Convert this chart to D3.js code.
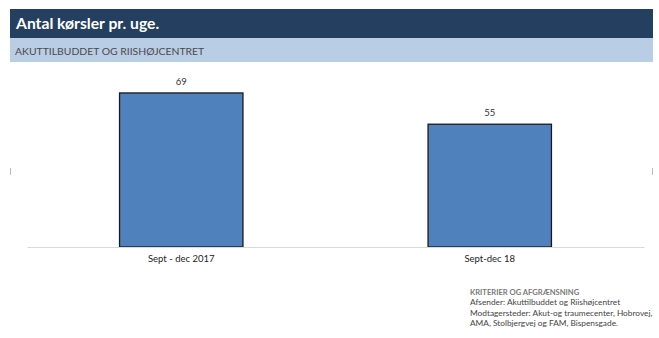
<!DOCTYPE html>
<html><head><meta charset="utf-8">
<script src="https://cdn.jsdelivr.net/npm/d3@7"></script>
<style>body{margin:0;background:#fff}svg{display:block}</style>
</head><body>
<script>
const categories = ["Sept - dec 2017", "Sept-dec 18"];
const values = [69, 55];
const title = "Antal kørsler pr. uge.";
const subtitle = "AKUTTILBUDDET OG RIISHØJCENTRET";
const notes = ["KRITERIER OG AFGRÆNSNING",
  "Afsender:  Akuttilbuddet og Riishøjcentret",
  "Modtagersteder: Akut-og traumecenter, Hobrovej,",
  "AMA, Stolbjergvej og FAM, Bispensgade."];

const W = 659, H = 338;
const svg = d3.select("body").append("svg").attr("width", W).attr("height", H);
const font = "Lato, 'Open Sans', sans-serif";

svg.append("rect").attr("x",10).attr("y",9).attr("width",643).attr("height",29).attr("fill","#243f60");
svg.append("rect").attr("x",10).attr("y",38).attr("width",643).attr("height",24).attr("fill","#b9cde5");
svg.append("text").attr("x",16).attr("y",29).attr("fill","#fff").attr("font-family",font)
  .attr("font-weight","bold").attr("font-size",15.7).text(title);
svg.append("text").attr("x",15).attr("y",54.5).attr("fill","#4a4a4a").attr("font-family",font)
  .attr("font-size",10.4).text(subtitle);

const x = d3.scaleBand().domain(categories).range([27,644]).paddingInner(0.6).paddingOuter(0.3);
const y = d3.scaleLinear().domain([0,80]).range([247,68.4]);

// side marks
svg.append("line").attr("x1",10.5).attr("x2",10.5).attr("y1",168).attr("y2",175).attr("stroke","#bbb");
svg.append("line").attr("x1",652.5).attr("x2",652.5).attr("y1",168).attr("y2",175).attr("stroke","#bbb");

svg.selectAll("rect.bar").data(values).join("rect").attr("class","bar")
  .attr("x",(d,i)=>x(categories[i])).attr("width",x.bandwidth())
  .attr("y",d=>y(d)).attr("height",d=>y(0)-y(d))
  .attr("fill","#4f81bd").attr("stroke","#1a1a1a").attr("stroke-width",1.3);

const ax = svg.append("g").attr("transform","translate(0,247)").call(d3.axisBottom(x).tickSize(0).tickPadding(8));
ax.select(".domain").attr("stroke","#d9d9d9");
ax.selectAll("text").attr("font-family",font).attr("font-size",9.5).attr("fill","#222");

svg.selectAll("text.lbl").data(values).join("text").attr("class","lbl")
  .attr("x",(d,i)=>x(categories[i])+x.bandwidth()/2).attr("y",d=>y(d)-8)
  .attr("text-anchor","middle").attr("font-family",font).attr("font-size",9.5).attr("fill","#333")
  .text(d=>d);

const n = svg.append("g").attr("font-family",font).attr("fill","#555");
notes.forEach((t,i)=>{
  n.append("text").attr("x",470).attr("y",295+i*10.4).attr("font-size",i===0?7.6:8.3)
   .attr("font-weight",i===0?"bold":"normal").attr("fill",i===0?"#7a7a7a":"#444").text(t);
});
</script>
</body></html>
